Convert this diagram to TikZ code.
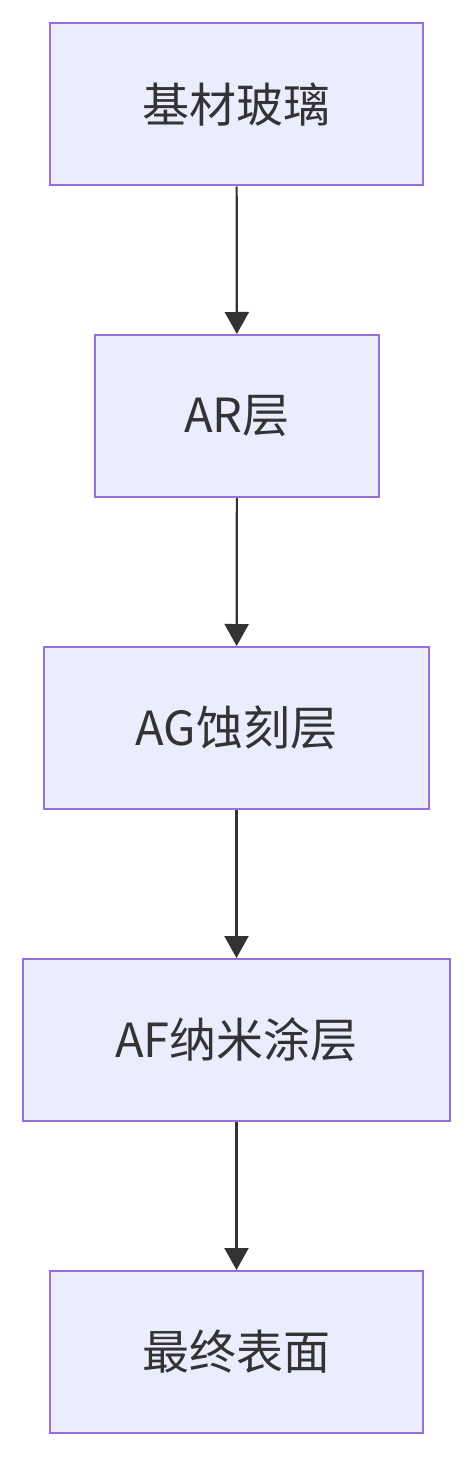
\documentclass[tikz,border=0pt]{standalone}
\usepackage{fontspec}
\setmainfont{Noto Sans CJK SC}
\usetikzlibrary{arrows.meta}
\definecolor{boxfill}{HTML}{ECECFF}
\definecolor{boxdraw}{HTML}{9370DB}
\definecolor{linec}{HTML}{333333}
\begin{document}
\begin{tikzpicture}[x=1pt,y=1pt,
  stepbox/.style={draw=boxdraw,fill=boxfill,line width=2pt,minimum height=162pt,inner sep=0pt,text=linec,font=\fontsize{47}{56}\selectfont},
  flow/.style={draw=linec,line width=2.2pt,-{Triangle[length=22pt,width=24pt]}}]
\useasboundingbox (0,0) rectangle (473,-1458);
\node[stepbox,minimum width=373pt] (a) at (236.5,-104.5) {基材玻璃};
\node[stepbox,minimum width=284pt] (b) at (237,-416) {AR层};
\node[stepbox,minimum width=385pt] (c) at (236.5,-728) {AG蚀刻层};
\node[stepbox,minimum width=427pt] (d) at (236.5,-1040) {AF纳米涂层};
\node[stepbox,minimum width=373pt] (e) at (236.5,-1352) {最终表面};
\draw[flow] (a) -- (b);
\draw[flow] (b) -- (c);
\draw[flow] (c) -- (d);
\draw[flow] (d) -- (e);
\end{tikzpicture}
\end{document}
